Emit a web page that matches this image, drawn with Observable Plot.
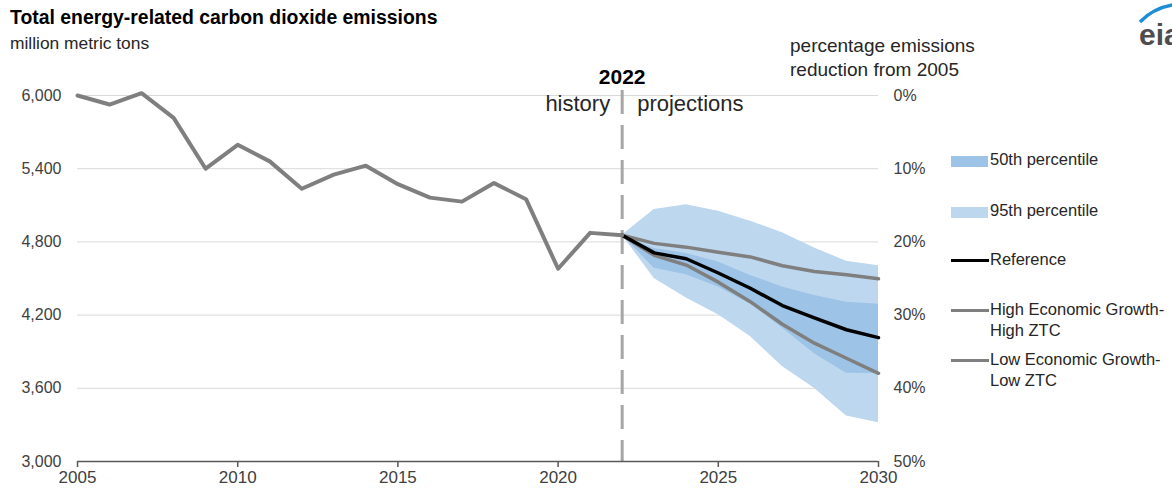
<!DOCTYPE html>
<html>
<head>
<meta charset="utf-8">
<script src="https://cdn.jsdelivr.net/npm/d3@7"></script>
<script src="https://cdn.jsdelivr.net/npm/@observablehq/plot@0.6"></script>
<style>
  html, body { margin: 0; padding: 0; background: #fff; }
  body { font-family: "Liberation Sans", Arial, sans-serif; color: #262626; }
  #wrap { position: relative; width: 1172px; height: 493px; overflow: hidden; }
  #wrap svg { position: absolute; left: 0; top: 0; }
  .abs { position: absolute; white-space: nowrap; }
  .title { left: 10px; top: 6px; font-size: 19.4px; font-weight: bold; color: #000; }
  .sub { left: 10px; top: 33px; font-size: 17.4px; color: #262626; }
  .rtitle { left: 790px; top: 34px; font-size: 19px; line-height: 24px; color: #262626; }
  .leg { font-size: 16.5px; line-height: 21px; color: #262626; }
  .sw { position: absolute; }
</style>
</head>
<body>
<div id="wrap"></div>
<script>
// Historical emissions, million metric tons
const histYears = [2005, 2006, 2007, 2008, 2009, 2010, 2011, 2012, 2013, 2014, 2015, 2016, 2017, 2018, 2019, 2020, 2021, 2022];
const histValues = [6000, 5926, 6019, 5817, 5400, 5596, 5460, 5236, 5351, 5425, 5273, 5163, 5130, 5282, 5150, 4580, 4874, 4855];

// Projection years and cases
const projYears = [2022, 2023, 2024, 2025, 2026, 2027, 2028, 2029, 2030];
const referenceCase = [4855, 4710, 4662, 4545, 4420, 4278, 4177, 4080, 4015];
const highGrowthCase = [4855, 4788, 4757, 4715, 4677, 4605, 4558, 4531, 4498];
const lowGrowthCase = [4855, 4690, 4610, 4470, 4310, 4125, 3970, 3846, 3723];

// Uncertainty ranges
const p50Upper = [4855, 4745, 4705, 4635, 4525, 4430, 4360, 4306, 4288];
const p50Lower = [4855, 4585, 4530, 4430, 4292, 4095, 3883, 3724, 3722];
const p95Upper = [4855, 5065, 5105, 5052, 4970, 4874, 4751, 4641, 4605];
const p95Lower = [4855, 4500, 4340, 4203, 4025, 3778, 3600, 3373, 3318];

// Axis ticks
const yTicks = [3000, 3600, 4200, 4800, 5400, 6000];
const pctLabels = ["50%", "40%", "30%", "20%", "10%", "0%"];
const xTicks = [2005, 2010, 2015, 2020, 2025, 2030];
const splitYear = 2022;

const legendItems = [
  {label: "50th percentile", kind: "band", color: "#9dc3e6", top: 150},
  {label: "95th percentile", kind: "band", color: "#bdd7ee", top: 201},
  {label: "Reference", kind: "line", color: "#000000", top: 250},
  {label: "High Economic Growth-<br>High ZTC", kind: "line", color: "#7f7f7f", top: 300},
  {label: "Low Economic Growth-<br>Low ZTC", kind: "line", color: "#7f7f7f", top: 350}
];

const hist = histYears.map((year, i) => ({year, value: histValues[i]}));
const proj = projYears.map((year, i) => ({
  year,
  ref: referenceCase[i], high: highGrowthCase[i], low: lowGrowthCase[i],
  p50lo: p50Lower[i], p50hi: p50Upper[i], p95lo: p95Lower[i], p95hi: p95Upper[i]
}));

const tickColor = "#404040";

const chart = Plot.plot({
  width: 1172,
  height: 493,
  marginLeft: 77,
  marginRight: 294,
  marginTop: 95,
  marginBottom: 32,
  style: {fontFamily: "Liberation Sans, Arial, sans-serif", background: "transparent"},
  x: {domain: [2005, 2030]},
  y: {domain: [3000, 6000]},
  marks: [
    Plot.ruleY(yTicks.filter(v => v > 3000), {stroke: "#d9d9d9", strokeWidth: 1}),
    Plot.areaY(proj, {x: "year", y1: "p95lo", y2: "p95hi", fill: "#bdd7ee"}),
    Plot.areaY(proj, {x: "year", y1: "p50lo", y2: "p50hi", fill: "#9dc3e6"}),
    // history / projections divider, dashed from just under the year label down to the axis
    Plot.ruleX([splitYear], {y1: 6041, y2: 3000, stroke: "#a6a6a6", strokeWidth: 3, strokeDasharray: "24,11"}),
    Plot.lineY(proj, {x: "year", y: "high", stroke: "#7f7f7f", strokeWidth: 3.5}),
    Plot.lineY(proj, {x: "year", y: "low", stroke: "#7f7f7f", strokeWidth: 3.5}),
    Plot.lineY(proj, {x: "year", y: "ref", stroke: "#000", strokeWidth: 3.5}),
    Plot.lineY(hist, {x: "year", y: "value", stroke: "#7f7f7f", strokeWidth: 4}),
    Plot.ruleY([3000], {stroke: "#595959", strokeWidth: 1.5}),
    Plot.axisY({ticks: yTicks, tickSize: 0, tickPadding: 16, tickFormat: d3.format(","), fontSize: 16, fill: tickColor, label: null}),
    Plot.axisY({anchor: "right", ticks: yTicks, tickSize: 0, tickPadding: 15, tickFormat: d => pctLabels[yTicks.indexOf(d)], fontSize: 16, fill: tickColor, label: null}),
    Plot.axisX({ticks: xTicks, tickFormat: d => String(d), tickSize: 6, tickPadding: 3, fontSize: 17, fill: tickColor, stroke: "#595959", strokeWidth: 1.5, label: null}),
    Plot.text([String(splitYear)], {x: [splitYear], frameAnchor: "top", dy: -26, text: d => d, fontSize: 21, fontWeight: "bold", fill: "#000"}),
    Plot.text(["history"], {x: [splitYear], frameAnchor: "top", dx: -12, dy: 0, text: d => d, textAnchor: "end", fontSize: 22, fill: "#262626"}),
    Plot.text(["projections"], {x: [splitYear], frameAnchor: "top", dx: 15, dy: 0, text: d => d, textAnchor: "start", fontSize: 22, fill: "#262626"})
  ]
});

const wrap = document.getElementById("wrap");
wrap.appendChild(chart);

function addDiv(cls, html, style) {
  const d = document.createElement("div");
  d.className = "abs " + cls;
  d.innerHTML = html;
  if (style) Object.assign(d.style, style);
  wrap.appendChild(d);
  return d;
}

addDiv("title", "Total energy-related carbon dioxide emissions");
addDiv("sub", "million metric tons");
addDiv("rtitle", "percentage emissions<br>reduction from 2005");

for (const item of legendItems) {
  const sw = document.createElement("div");
  sw.className = "sw";
  if (item.kind === "band") {
    Object.assign(sw.style, {left: "951px", top: (item.top + 6) + "px", width: "37px", height: "11px", background: item.color});
  } else {
    Object.assign(sw.style, {left: "951px", top: (item.top + 9) + "px", width: "38px", height: "3px", background: item.color});
  }
  wrap.appendChild(sw);
  addDiv("leg", item.label, {left: "990px", top: (item.top - 1) + "px"});
}

// EIA logo mark
const ns = "http://www.w3.org/2000/svg";
const logo = document.createElementNS(ns, "svg");
logo.setAttribute("width", "60");
logo.setAttribute("height", "60");
logo.style.position = "absolute";
logo.style.left = "1130px";
logo.style.top = "0px";
const arc = document.createElementNS(ns, "path");
arc.setAttribute("d", "M10,22 Q25,6 50,4");
arc.setAttribute("fill", "none");
arc.setAttribute("stroke", "#1f8dd6");
arc.setAttribute("stroke-width", "3.5");
logo.appendChild(arc);
const lt = document.createElementNS(ns, "text");
lt.setAttribute("x", "9");
lt.setAttribute("y", "45");
lt.setAttribute("font-size", "30");
lt.setAttribute("font-weight", "bold");
lt.setAttribute("font-family", "Liberation Sans, Arial, sans-serif");
lt.setAttribute("fill", "#4d4d4f");
lt.textContent = "eia";
logo.appendChild(lt);
wrap.appendChild(logo);
</script>
</body>
</html>
